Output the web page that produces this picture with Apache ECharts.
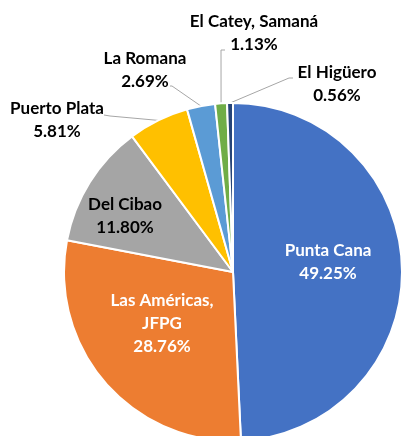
<!DOCTYPE html>
<html>
<head>
<meta charset="utf-8">
<script src="https://cdn.jsdelivr.net/npm/echarts@6/dist/echarts.min.js"></script>
<style>
  html, body { margin: 0; padding: 0; background: #fff; }
  #main { width: 401px; height: 436px; }
</style>
</head>
<body>
<div id="main"></div>
<script>
// 数据
var categories = ['Punta Cana', 'Las Américas,\nJFPG', 'Del Cibao', 'Puerto Plata', 'La Romana', 'El Catey, Samaná', 'El Higüero'];
var shares = [49.25, 28.76, 11.80, 5.81, 2.69, 1.13, 0.56];
var colors = ['#4472C4', '#ED7D31', '#A5A5A5', '#FFC000', '#5B9BD5', '#70AD47', '#264478'];

// label placement (centre of each label block), and where its leader meets the text
var labelSpots = [
  [328, 262], [162, 324], [125, 216], [57, 120], [145, 70], [254, 33], [337, 84]
];
var leaderEnds = [
  null, null, null,
  [[110, 116], [104, 115]],
  [[172, 86], [170, 86]],
  [[221, 50], [225, 50]],
  [[289, 78], [293, 78]]
];

var myChart = echarts.init(document.getElementById('main'));

var data = categories.map(function (name, i) {
  var inside = i < 3;
  return {
    name: name,
    value: shares[i],
    itemStyle: { color: colors[i] },
    label: { color: (i < 2) ? '#fff' : '#000' },
    labelLine: { show: !inside }
  };
});

var option = {
  animation: false,
  series: [
    {
      type: 'pie',
      center: [233, 272],
      radius: 169,
      startAngle: 90,
      clockwise: true,
      avoidLabelOverlap: false,
      data: data,
      itemStyle: { borderColor: '#fff', borderWidth: 2 },
      label: {
        show: true,
        position: 'outside',
        overflow: 'none',
        fontFamily: 'Lato',
        fontWeight: 'bold',
        fontSize: 17,
        lineHeight: 23,
        align: 'center',
        formatter: function (p) {
          return p.name + '\n' + shares[p.dataIndex].toFixed(2) + '%';
        }
      },
      labelLine: {
        lineStyle: { color: '#A6A6A6', width: 1 }
      },
      labelLayout: function (params) {
        var i = params.dataIndex;
        var out = {
          x: labelSpots[i][0],
          y: labelSpots[i][1],
          align: 'center',
          verticalAlign: 'middle'
        };
        if (leaderEnds[i] && params.labelLinePoints) {
          out.labelLinePoints = [params.labelLinePoints[0]].concat(leaderEnds[i]);
        }
        return out;
      }
    }
  ]
};
myChart.setOption(option);
</script>
</body>
</html>
